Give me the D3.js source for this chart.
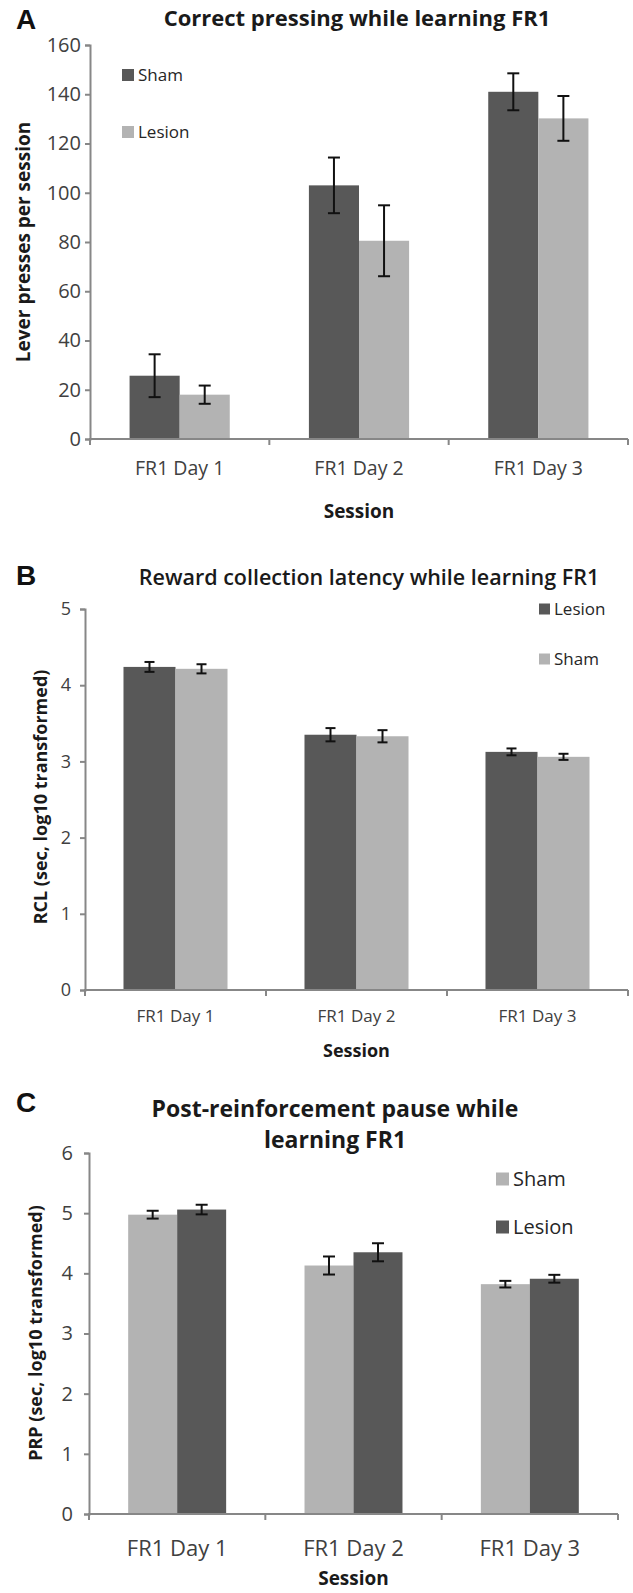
<script src="https://d3js.org/d3.v7.min.js"></script>
<title>D3</title>

<style>
	body {
	  margin: 0;
	  background: #fff;
	}
	text {
	  font-family: "Open Sans", sans-serif;
	}
	.axisGrey line, .axisGrey path {
	  stroke: #878787;
	  stroke-width: 2;
	}
	.axisGrey text {
	  fill: #404040;
	}
</style>

<body>
<script>
    // sessions (x categories), shared by all three panels
    var sessions = ["FR1 Day 1", "FR1 Day 2", "FR1 Day 3"];

    // panel A : lever presses per session
    var pressTicks = [0, 20, 40, 60, 80, 100, 120, 140, 160];
    var pressSham = [25.7, 103.0, 141.0];
    var pressShamErr = [8.7, 11.3, 7.5];
    var pressLesion = [18.0, 80.5, 130.2];
    var pressLesionErr = [3.7, 14.4, 9.1];

    // panel B : reward collection latency (log10 s)
    var rclTicks = [0, 1, 2, 3, 4, 5];
    var rclLesion = [4.24, 3.35, 3.125];
    var rclLesionErr = [0.065, 0.087, 0.045];
    var rclSham = [4.215, 3.33, 3.06];
    var rclShamErr = [0.06, 0.08, 0.04];

    // panel C : post-reinforcement pause (log10 s)
    var prpTicks = [0, 1, 2, 3, 4, 5, 6];
    var prpSham = [4.975, 4.13, 3.82];
    var prpShamErr = [0.065, 0.15, 0.055];
    var prpLesion = [5.06, 4.35, 3.91];
    var prpLesionErr = [0.08, 0.15, 0.065];

    var dark = "#585858", light = "#b3b3b3";

    var svg = d3.select("body").append("svg")
        .attr("width", 633)
        .attr("height", 1593);

    function drawPanel(p) {
        var g = svg.append("g");

        var x = d3.scaleBand().domain(sessions).range([p.left, p.right]);
        var inner = d3.scaleBand().domain([0, 1]).range([0, x.bandwidth()]).paddingOuter(p.pad);
        var y = d3.scaleLinear().domain([0, d3.max(p.ticks)]).range([p.bottom, p.top]);

        // bars
        p.series.forEach(function (s, i) {
            g.selectAll(null)
                .data(s.values)
                .enter().append("rect")
                .attr("x", function (d, j) { return x(sessions[j]) + inner(i); })
                .attr("y", function (d) { return y(d); })
                .attr("width", inner.bandwidth())
                .attr("height", function (d) { return y(0) - y(d); })
                .attr("fill", s.color);
        });

        // error bars
        p.series.forEach(function (s, i) {
            var eb = g.selectAll(null)
                .data(s.values)
                .enter().append("g")
                .attr("stroke", "#111")
                .attr("stroke-width", 2);
            var cx = function (d, j) { return x(sessions[j]) + inner(i) + inner.bandwidth() / 2; };
            eb.append("line")
                .attr("x1", cx).attr("x2", cx)
                .attr("y1", function (d, j) { return y(d + s.err[j]); })
                .attr("y2", function (d, j) { return y(d - s.err[j]); });
            [1, -1].forEach(function (sign) {
                eb.append("line")
                    .attr("x1", function (d, j) { return cx(d, j) - p.cap; })
                    .attr("x2", function (d, j) { return cx(d, j) + p.cap; })
                    .attr("y1", function (d, j) { return y(d + sign * s.err[j]); })
                    .attr("y2", function (d, j) { return y(d + sign * s.err[j]); });
            });
        });

        // y axis
        var yAxisG = g.append("g")
            .attr("class", "axisGrey")
            .attr("transform", "translate(" + p.left + ",0)")
            .call(d3.axisLeft(y).tickValues(p.ticks).tickFormat(d3.format("d"))
                .tickSizeOuter(0).tickSize(5).tickPadding(p.yPad));
        yAxisG.selectAll("text").style("font-size", p.yFont + "px");

        // x axis: labels at band centres, ticks at band edges
        var xAxisG = g.append("g")
            .attr("class", "axisGrey")
            .attr("transform", "translate(0," + p.bottom + ")")
            .call(d3.axisBottom(x).tickSize(0).tickPadding(p.xPad));
        xAxisG.select(".domain").remove();
        xAxisG.selectAll("text").style("font-size", p.xFont + "px");
        xAxisG.append("line")
            .attr("x1", p.left - 1).attr("x2", p.right);
        xAxisG.selectAll(null)
            .data(sessions.map(function (d) { return x(d); }).concat([p.right]))
            .enter().append("line")
            .attr("x1", function (d) { return d; })
            .attr("x2", function (d) { return d; })
            .attr("y1", 0).attr("y2", 6);

        // panel letter
        g.append("text")
            .attr("x", 16).attr("y", p.letterY)
            .style("font-family", "'Liberation Sans', Arial, sans-serif")
            .style("font-weight", "bold")
            .style("font-size", "28px")
            .attr("fill", "#111")
            .text(p.letter);

        // title
        var t = g.append("text")
            .attr("x", p.titleX).attr("y", p.titleY)
            .attr("text-anchor", "middle")
            .style("font-weight", p.titleWeight)
            .style("font-size", p.titleFont + "px")
            .attr("fill", "#1a1a1a");
        p.title.forEach(function (line, i) {
            t.append("tspan").attr("x", p.titleX).attr("dy", i ? p.titleLead : 0).text(line);
        });

        // y label
        g.append("text")
            .attr("transform", "translate(" + p.yLabelX + "," + p.yLabelY + ") rotate(-90)")
            .attr("text-anchor", "middle")
            .style("font-weight", "bold")
            .style("font-size", p.yLabelFont + "px")
            .attr("fill", "#1a1a1a")
            .text(p.yLabel);

        // x label
        g.append("text")
            .attr("x", (p.left + p.right) / 2).attr("y", p.sessionY)
            .attr("text-anchor", "middle")
            .style("font-weight", "bold")
            .style("font-size", p.sessionFont + "px")
            .attr("fill", "#1a1a1a")
            .text("Session");

        // legend
        var lg = g.selectAll(null)
            .data(p.series)
            .enter().append("g")
            .attr("transform", function (d, i) { return "translate(" + p.legX + "," + (p.legY + i * p.legGap) + ")"; });
        lg.append("rect")
            .attr("x", 0).attr("y", -p.legBox / 2)
            .attr("width", p.legBox).attr("height", p.legBox)
            .attr("fill", function (d) { return d.color; });
        lg.append("text")
            .attr("x", p.legBox + 4).attr("y", 0)
            .attr("dy", "0.35em")
            .style("font-size", p.legFont + "px")
            .attr("fill", "#262626")
            .text(function (d) { return d.name; });
    }

    drawPanel({
        letter: "A", letterY: 29,
        title: ["Correct pressing while learning FR1"], titleX: 357, titleY: 26, titleFont: 22, titleWeight: "bold", titleLead: 0,
        left: 90, right: 628, top: 45, bottom: 439, pad: 0.79, cap: 6,
        ticks: pressTicks, yFont: 20, yPad: 4, xFont: 19.5, xPad: 22,
        yLabel: "Lever presses per session", yLabelX: 30, yLabelY: 242, yLabelFont: 19,
        sessionY: 518, sessionFont: 19,
        legX: 122, legY: 75, legGap: 57, legBox: 12, legFont: 17,
        series: [
            { name: "Sham", color: dark, values: pressSham, err: pressShamErr },
            { name: "Lesion", color: light, values: pressLesion, err: pressLesionErr }
        ]
    });

    drawPanel({
        letter: "B", letterY: 585,
        title: ["Reward collection latency while learning FR1"], titleX: 369, titleY: 585, titleFont: 21.5, titleWeight: 600, titleLead: 0,
        left: 85, right: 628, top: 609, bottom: 990, pad: 0.74, cap: 5,
        ticks: rclTicks, yFont: 18, yPad: 9, xFont: 17, xPad: 20,
        yLabel: "RCL (sec, log10 transformed)", yLabelX: 47, yLabelY: 797, yLabelFont: 18,
        sessionY: 1057, sessionFont: 18,
        legX: 539, legY: 609, legGap: 50, legBox: 11, legFont: 17,
        series: [
            { name: "Lesion", color: dark, values: rclLesion, err: rclLesionErr },
            { name: "Sham", color: light, values: rclSham, err: rclShamErr }
        ]
    });

    drawPanel({
        letter: "C", letterY: 1112,
        title: ["Post-reinforcement pause while", "learning FR1"], titleX: 335, titleY: 1117, titleFont: 23, titleWeight: "bold", titleLead: 31,
        left: 89, right: 618, top: 1153, bottom: 1514, pad: 0.8, cap: 6,
        ticks: prpTicks, yFont: 20, yPad: 11, xFont: 22, xPad: 26,
        yLabel: "PRP (sec, log10 transformed)", yLabelX: 42, yLabelY: 1333, yLabelFont: 18,
        sessionY: 1585, sessionFont: 19,
        legX: 496, legY: 1179, legGap: 48, legBox: 13, legFont: 20,
        series: [
            { name: "Sham", color: light, values: prpSham, err: prpShamErr },
            { name: "Lesion", color: dark, values: prpLesion, err: prpLesionErr }
        ]
    });
</script>
</body>
